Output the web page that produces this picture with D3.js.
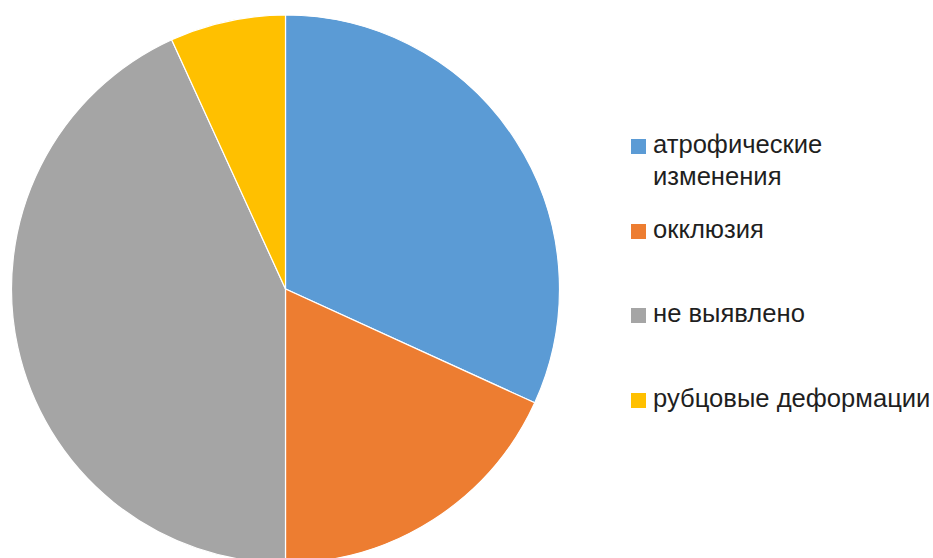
<!DOCTYPE html>
<html>
<head>
<meta charset="utf-8">
<script src="https://cdn.jsdelivr.net/npm/d3@7"></script>
<style>
  html, body { margin: 0; padding: 0; background: #ffffff; }
  svg { display: block; }
</style>
</head>
<body>
<svg id="chart" width="933" height="558"></svg>
<script>
// Categories, counts and slice colours
const categories = ["атрофические изменения", "окклюзия", "не выявлено", "рубцовые деформации"];
const legendLines = [["атрофические", "изменения"], ["окклюзия"], ["не выявлено"], ["рубцовые деформации"]];
const values = [14, 8, 19, 3];
const colors = ["#5B9BD5", "#ED7D31", "#A5A5A5", "#FFC000"];

const svg = d3.select("#chart");
const cx = 285.5, cy = 289, radius = 274;

const pie = d3.pie().sort(null).value(d => d)(values);
const arc = d3.arc().innerRadius(0).outerRadius(radius);

svg.append("g")
  .attr("transform", `translate(${cx},${cy})`)
  .selectAll("path")
  .data(pie)
  .join("path")
  .attr("d", arc)
  .attr("fill", (d, i) => colors[i])
  .attr("stroke", "#ffffff")
  .attr("stroke-width", 1.2);

// Legend
const legendX = 631, textX = 653;
const legendY = [153, 238, 322, 407]; // text baselines
const lineGap = 32;

const items = svg.append("g").selectAll("g")
  .data(categories)
  .join("g");

items.append("rect")
  .attr("x", legendX)
  .attr("y", (d, i) => legendY[i] - 14)
  .attr("width", 15)
  .attr("height", 15)
  .attr("fill", (d, i) => colors[i]);

items.append("text")
  .attr("x", textX)
  .attr("y", (d, i) => legendY[i])
  .attr("font-family", "'Liberation Sans', Arial, sans-serif")
  .attr("font-size", 25.6)
  .attr("fill", "#1f1f1f")
  .selectAll("tspan")
  .data((d, i) => legendLines[i])
  .join("tspan")
  .attr("x", textX)
  .attr("dy", (d, j) => j === 0 ? 0 : lineGap)
  .text(d => d);
</script>
</body>
</html>
